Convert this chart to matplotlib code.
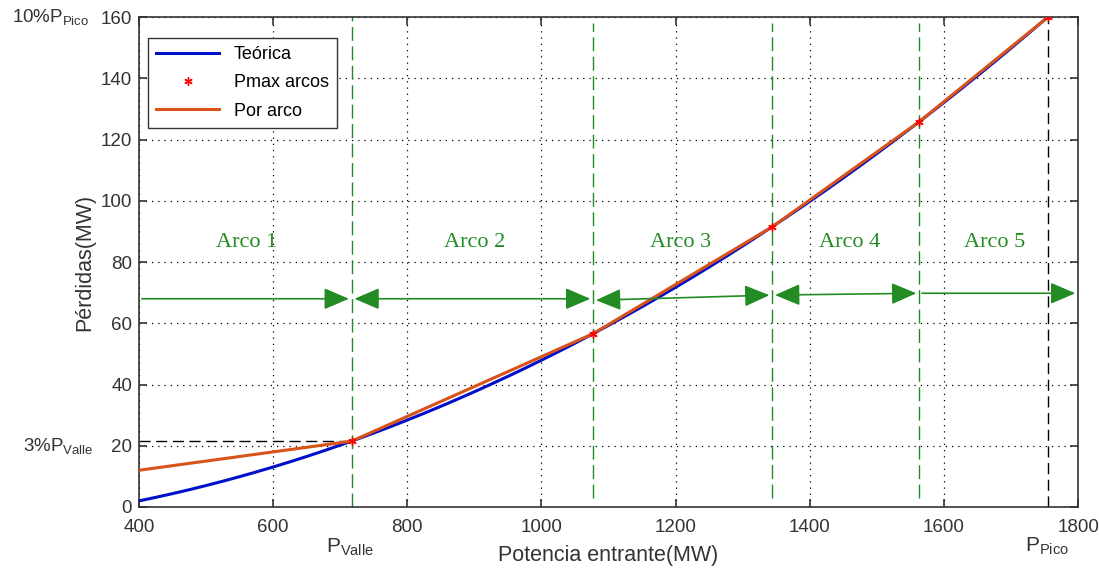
import matplotlib
matplotlib.use('Agg')
import matplotlib.pyplot as plt
import matplotlib.transforms as mtransforms

plt.rcParams['font.family'] = ['Liberation Sans', 'DejaVu Sans']
plt.rcParams['mathtext.fontset'] = 'custom'
plt.rcParams['mathtext.rm'] = 'Liberation Sans'
plt.rcParams['mathtext.it'] = 'Liberation Sans'

# ---- data ----
p_teo = [400, 425, 450, 475, 500, 525, 550, 575, 600, 625, 650, 675, 700, 717,
         725, 750, 775, 800, 825, 850, 875, 900, 925, 950, 975, 1000, 1025,
         1050, 1077, 1100, 1125, 1150, 1175, 1200, 1225, 1250, 1275, 1300,
         1325, 1344, 1375, 1400, 1425, 1450, 1475, 1500, 1525, 1563, 1575,
         1600, 1625, 1650, 1675, 1700, 1725, 1755]
loss_teo = [2.00, 3.15, 4.37, 5.65, 7.01, 8.42, 9.91, 11.46, 13.07, 14.75,
            16.50, 18.32, 20.20, 21.52, 22.15, 24.16, 26.24, 28.39, 30.60,
            32.88, 35.23, 37.64, 40.12, 42.66, 45.27, 47.95, 50.69, 53.50,
            56.61, 59.32, 62.33, 65.41, 68.55, 71.76, 75.03, 78.37, 81.78,
            85.25, 88.79, 91.53, 96.07, 99.81, 103.61, 107.48, 111.42, 115.43,
            119.49, 125.81, 127.83, 132.10, 136.44, 140.84, 145.31, 149.84,
            154.44, 160.05]

p_arcos = [717, 1077, 1344, 1563, 1755]
loss_arcos = [21.5, 56.6, 91.5, 125.8, 160.0]

p_por_arco = [400, 717, 1077, 1344, 1563, 1755]
loss_por_arco = [12.0, 21.5, 56.6, 91.5, 125.8, 160.0]

p_valle, loss_valle = 717, 21.5
p_pico, loss_pico = 1755, 160.0

arco_names = ['Arco 1', 'Arco 2', 'Arco 3', 'Arco 4', 'Arco 5']
arco_text_x = [561, 901, 1207, 1460, 1676]
arco_text_y = 86.5
# arrows: (x_start, y_start, x_end, y_end, double-headed)
arrows = [
    (400, 68.0, 717, 68.0, False),
    (717, 68.0, 1077, 68.0, True),
    (1077, 67.5, 1344, 69.2, True),
    (1344, 69.2, 1563, 69.8, True),
    (1563, 69.8, 1800, 69.8, False),
]

fig = plt.figure(figsize=(10.99, 5.68), dpi=100)
ax = fig.add_axes([0.1265, 0.1074, 0.8545, 0.8626])

green = '#238B23'
blue = '#0010C8'
orange = '#D95319'
dark = '#333333'

ax.plot(p_teo, loss_teo, color=blue, lw=2.2, label='Teórica', zorder=3)
ax.plot(p_arcos, loss_arcos, ls='none', marker=(6, 2, 0), color='red', ms=6,
        mew=1.0, label='Pmax arcos', zorder=5)
ax.plot(p_por_arco, loss_por_arco, color=orange, lw=2.2, label='Por arco', zorder=4)

# reference dashed lines
ax.plot([400, p_valle], [loss_valle, loss_valle], color='black', ls=(0, (8, 4)), lw=1, zorder=2)
ax.plot([p_pico, p_pico], [0, loss_pico], color='black', ls=(0, (8, 4)), lw=1, zorder=2)

# arc boundaries
ax.plot([p_arcos[0], p_arcos[0]], [0, 160], color=green, ls=(0, (10, 4)), lw=1, zorder=2)
for x in p_arcos[1:4]:
    ax.plot([x, x], [3, 158], color=green, ls=(0, (10, 4)), lw=1, zorder=2)

for x0, y0, x1, y1, both in arrows:
    style = ('<|-|>' if both else '-|>') + ',head_length=0.7,head_width=0.3'
    ax.annotate('', xy=(x1, y1), xytext=(x0, y0),
                arrowprops=dict(arrowstyle=style, color=green, lw=1.2,
                                mutation_scale=22, shrinkA=2, shrinkB=2),
                annotation_clip=False, zorder=6)

for name, x in zip(arco_names, arco_text_x):
    ax.text(x, arco_text_y, name, color=green, fontsize=16, ha='center', va='center',
            family=['Liberation Serif', 'DejaVu Serif'])

ax.set_xlim(400, 1800)
ax.set_ylim(0, 160)
ax.set_xticks(range(400, 1801, 200))
ax.set_yticks(range(0, 161, 20))
ax.tick_params(direction='in', top=True, right=True, labelsize=13.5, length=6,
               width=1.2, colors=dark)
ax.tick_params(axis='x', pad=9)
ax.tick_params(axis='y', pad=5)
ax.grid(True, color='black', ls=(0, (1, 4)), lw=0.9)
for s in ax.spines.values():
    s.set_linewidth(1.2)
    s.set_color(dark)

ax.set_xlabel('Potencia entrante(MW)', fontsize=15.5, color=dark)
ax.xaxis.set_label_coords(0.5, -0.078)
ax.set_ylabel('Pérdidas(MW)', fontsize=15.5, color=dark)
ax.yaxis.set_label_coords(-0.047, 0.5)

trans_y = mtransforms.blended_transform_factory(ax.transAxes, ax.transData)
ax.text(-0.135, 160, r'10%P$_{\mathrm{Pico}}$', transform=trans_y, fontsize=13.5,
        ha='left', va='center', color=dark)
ax.text(-0.124, 20, r'3%P$_{\mathrm{Valle}}$', transform=trans_y, fontsize=13.5,
        ha='left', va='center', color=dark)
trans_x = mtransforms.blended_transform_factory(ax.transData, ax.transAxes)
ax.text(p_valle - 3, -0.083, r'P$_{\mathrm{Valle}}$', transform=trans_x, fontsize=15,
        ha='center', va='center', color=dark)
ax.text(p_pico - 2, -0.080, r'P$_{\mathrm{Pico}}$', transform=trans_x, fontsize=15,
        ha='center', va='center', color=dark)

leg = ax.legend(loc='upper left', bbox_to_anchor=(0.0096, 0.957), borderaxespad=0,
                fancybox=False, fontsize=13, handlelength=3.5, framealpha=1,
                edgecolor=dark, borderpad=0.45, labelspacing=0.62)
leg.get_frame().set_linewidth(1.0)

fig.savefig('out.png', dpi=100)
